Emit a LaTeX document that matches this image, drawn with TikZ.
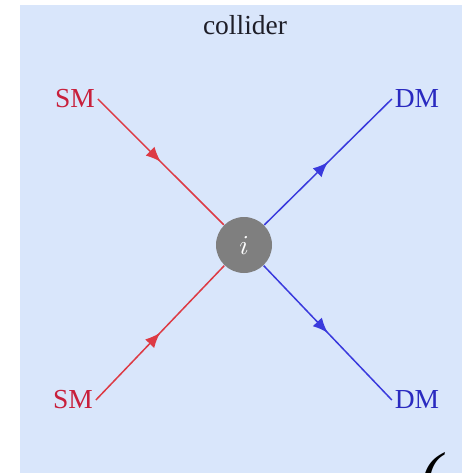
\documentclass[tikz,border=0pt]{standalone}
\usepackage{fontspec}
\setmainfont{Liberation Serif}
\usetikzlibrary{arrows.meta,decorations.markings}
\definecolor{colBg}{HTML}{D9E6FB}
\definecolor{colInk}{HTML}{1E1E28}
\definecolor{colVertex}{HTML}{7F7F7F}
\definecolor{colSM}{HTML}{DD3A44}
\definecolor{colSMtext}{HTML}{C8203C}
\definecolor{colDM}{HTML}{3A3ADD}
\definecolor{colDMtext}{HTML}{2A2AC0}

\begin{document}
\begin{tikzpicture}[
  x=0.4pt,y=-0.4pt,
  font=\fontsize{11}{13}\selectfont,
  vertex/.style ={circle,fill=colVertex,minimum size=22.4pt,inner sep=0pt,text=white},
  smlabel/.style={text=colSMtext,inner sep=1pt},
  dmlabel/.style={text=colDMtext,inner sep=1pt},
  midarrow/.style={postaction=decorate,decoration={markings,
      mark=at position 0.5 with {\arrow{Latex[length=6pt,width=5pt]}}}},
  smline/.style ={draw=colSM,line width=0.6pt,midarrow},
  dmline/.style ={draw=colDM,line width=0.6pt,midarrow}
]
\useasboundingbox (0,0) rectangle (462,473);
% background panel
\fill[colBg] (20,5) rectangle (462,473);

% title
\node[text=colInk] (title) at (245,25) {collider};

% vertex
\node[vertex] (vtx) at (244,245) {$i$};

% external legs
\node[smlabel] (smin1) at (75,99)  {SM};
\node[smlabel] (smin2) at (73,400) {SM};
\node[dmlabel] (dmout1) at (417,99)  {DM};
\node[dmlabel] (dmout2) at (417,400) {DM};

% incoming SM, outgoing DM
\draw[smline] (smin1.east) -- (vtx);
\draw[smline] (smin2.east) -- (vtx);
\draw[dmline] (vtx) -- (dmout1.west);
\draw[dmline] (vtx) -- (dmout2.west);

% cut-off glyph at the lower edge
\node[text=black,font=\fontsize{26}{28}\selectfont\itshape,anchor=north west,inner sep=0pt] (cut) at (420,452) {(};
\end{tikzpicture}
\end{document}
